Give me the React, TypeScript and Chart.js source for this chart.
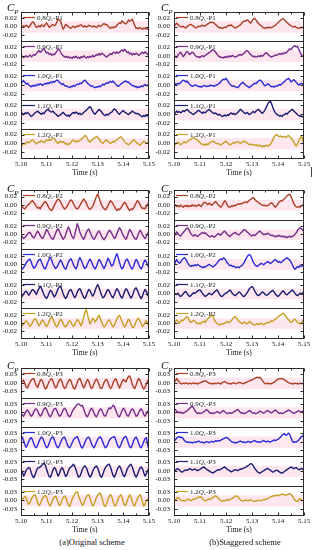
import React, { useEffect, useRef } from 'react';
import { Chart, registerables } from 'chart.js';

Chart.register(...registerables);

const SERIF = '"Liberation Serif", "Times New Roman", serif';

// ---- sampling of every time series: 5.100 s ... 5.150 s, step 0.0005 s ----
const T_START = 5.1;
const T_STEP = 0.0005;
const SAMPLE_COUNT = 101;
const times: number[] = Array.from({ length: SAMPLE_COUNT }, (_, i) => Number((T_START + i * T_STEP).toFixed(4)));

// all Cp values below are stored in units of 1e-3
const CP_UNIT = 0.001;

const flowLabels = ['0.8', '0.9', '1.0', '1.1', '1.2'];
const timeTicks = [5.1, 5.11, 5.12, 5.13, 5.14, 5.15];
const cpTicksP12 = [-0.02, 0, 0.02];
const cpTicksP3 = [-0.03, 0, 0.03];
const seriesColors = ['#ad3f26', '#762c88', '#2a2ad6', '#1b1b72', '#c79e22'];

// ---- (a) Original scheme, P1 ----
const origP1_08 = [1,-1,2,0,3,1,-2,2,6,11, 9,3,-2,0,2,-1,4,2,0,5, 8,4,-2,0,3,5,2,4,10,17, 15,12,2,-6,-1,5,3,0,-2,-4, -1,1,-2,-1,2,0,3,4,1,-1, 2,-1,0,3,1,1,-1,2,0,-2, 1,3,0,2,5,7,4,5,1,-2, -4,-1,-3,0,-1,3,6,9,7,13, 10,8,6,9,15,12,14,17,10,2, -4,-3,-5,-2,-4,-6,-3,-5,-4,-6, -5];
const origP1_09 = [-3,-1,-4,-2,0,-3,-1,2,-2,0, 3,1,5,9,12,8,10,14,16,11, 6,8,3,5,1,4,2,6,10,16, 14,8,3,0,-3,-1,-4,-2,-5,-3, -6,-2,-4,-1,-5,-3,-6,-2,-4,0, -3,-5,-2,-4,-1,-3,1,-2,0,3, 1,5,2,6,4,2,-1,-3,0,2, 5,3,7,8,5,9,6,8,11,13, 10,15,12,7,9,4,6,2,5,3, 6,4,1,3,6,8,5,9,7,3, 2];
const origP1_10 = [4,7,10,6,2,4,0,-2,-4,-1, -3,0,-2,2,0,3,1,-1,2,4, 2,5,3,7,5,8,6,9,11,10, 6,4,1,3,-1,-3,-2,-5,-6,-3, -4,-1,-3,0,2,1,4,3,6,9, 11,8,4,2,-1,-3,-2,-5,-6,-4, -5,-2,-4,-1,2,0,3,5,4,7, 8,6,9,5,2,-1,-3,-1,2,4, 6,8,9,6,7,4,1,-2,-1,-4, -3,-6,-4,-5,-2,-4,-1,1,-2,0, -3];
const origP1_11 = [0,2,-1,3,1,4,2,-2,-5,-3, 0,3,5,7,4,2,0,3,1,6, 9,11,8,6,5,7,3,1,-2,-5, -3,-1,2,4,1,-2,-4,-2,-5,-1, 2,4,2,5,3,0,2,-1,1,4, 6,9,12,15,17,13,7,2,0,4, 7,11,9,5,1,-2,-3,0,-2,1, 3,5,9,12,10,6,2,0,3,6, 8,5,3,1,-1,2,4,7,5,3, 1,2,0,-2,-4,-6,-3,-5,-2,-4, -1];
const origP1_12 = [-7,-3,0,-2,2,4,1,3,6,8, 5,2,-1,1,4,3,6,4,2,5, 8,6,9,7,10,12,11,6,2,0, 3,5,2,4,1,-2,0,-3,-1,2, 6,8,5,3,6,4,7,9,12,14, 18,16,10,5,3,6,9,11,13,16, 14,10,6,2,0,3,6,8,5,2, 0,2,5,3,6,8,11,13,15,12, 8,4,1,-1,-3,-1,2,5,8,6, 3,0,-2,-4,-1,2,5,3,0,2, 1];

// ---- (b) Staggered scheme, P1 ----
const stagP1_08 = [0,4,8,5,2,0,-1,1,-2,-3, 0,2,4,5,3,1,-2,-3,-1,1, 0,2,3,1,2,4,6,8,10,9, 10,7,5,2,-1,-3,-2,-4,-3,-1, -2,1,3,2,4,1,-1,-3,-2,0, 2,4,7,11,13,12,15,14,10,8, 13,17,19,15,11,7,4,2,-1,-3, -4,-2,-3,-1,-3,-2,0,1,3,6, 9,12,14,17,18,15,12,9,6,4, 2,0,-1,1,-2,-3,-4,-2,-3,-1, -2];
const stagP1_09 = [2,-2,-4,1,5,8,4,-2,1,6, 10,7,3,5,8,6,2,-1,-3,-2, -4,-1,0,-2,1,3,5,7,9,12, 14,12,8,4,0,-2,-4,-3,-5,-2, -4,-1,-3,0,-2,1,-1,-3,-2,0, 2,3,1,4,6,9,12,10,6,3, 0,-2,-1,-3,-2,0,-2,1,-1,2, 5,7,4,1,-1,-3,-1,0,2,1, 3,5,3,6,4,7,6,9,12,16, 14,18,21,23,20,22,15,8,2,-1, 0];
const stagP1_10 = [0,3,1,4,2,5,8,11,10,7, 9,5,2,-1,-3,-2,0,-1,-2,-4, -3,-5,-3,-1,-2,-4,-2,-3,0,-2, -1,-3,-1,0,2,4,8,11,13,12, 15,11,6,2,-1,-3,-2,-4,-5,-6, -3,1,4,6,3,0,-2,-4,-6,-3, -1,2,4,3,6,9,11,10,6,1, -2,0,3,1,-2,-4,-3,-5,-2,-3, -1,1,0,3,5,8,11,13,15,12, 7,9,12,10,6,3,0,2,4,1, 3];
const stagP1_11 = [0,3,7,4,6,3,5,8,6,9, 11,8,5,3,1,-1,2,4,7,9, 6,4,2,5,3,6,9,11,8,5, 3,1,3,0,-2,0,-3,-5,-4,-2, -4,-1,-3,1,3,0,2,-1,1,4, 7,11,9,6,3,1,4,2,-1,1, 4,6,3,7,9,11,8,4,2,5, 10,16,22,27,30,24,15,8,3,0, -2,-4,-3,-5,-2,-1,2,0,4,6, 9,11,8,5,2,-1,-3,-5,-4,-6, -4];
const stagP1_12 = [-6,-2,1,3,0,-3,-1,2,4,1, 3,6,8,10,12,13,11,9,8,5, 2,-1,-3,-2,-4,-1,-3,0,2,4, 5,3,1,-1,0,-2,-4,-1,1,3, 5,2,-1,-3,-2,0,2,1,3,4, 2,0,2,4,5,3,1,-1,-3,-2, -2,-4,-3,-5,-3,-6,-4,-6,-8,-5, -7,-4,-6,-4,-3,2,8,14,18,20, 17,15,17,14,16,15,13,16,18,15, 12,9,4,-2,-6,-1,5,12,16,8, -3];

// ---- (a) Original scheme, P2 ----
const origP2_08 = [2,-4,-8,-10,-6,-2,1,4,8,10, 6,1,-4,-8,-6,-10,-4,0,5,8, 4,-2,-8,-12,-14,-8,-2,4,10,14, 12,6,0,-6,-10,-8,-4,2,8,12, 9,3,-3,-8,-10,-7,-2,4,9,14, 11,4,-3,-9,-11,-8,-4,3,12,20, 26,18,8,0,-6,-10,-12,-8,-2,4, 10,7,2,-4,-10,-14,-10,-12,-8,-3, 2,6,3,-4,-10,-14,-10,-12,-8,-2, 4,10,7,1,-5,-9,-8,-10,-4,2, 0];
const origP2_09 = [-2,-6,-10,-8,-4,0,4,5,0,-6, -9,-4,3,8,4,-3,-8,-10,-4,4, 12,8,1,-5,-10,-12,-6,2,10,14, 8,0,-6,-12,-8,0,10,18,12,2, -6,-10,-2,12,26,18,6,-2,-8,-12, -6,4,10,13,6,-2,-8,-12,-8,-1, 5,8,3,-4,-10,-13,-8,-2,5,10, 8,2,-4,-10,-7,2,10,16,12,4, -3,-8,-12,-6,4,12,8,1,-5,-10, -12,-6,2,10,6,-1,-6,-10,-5,2, 6];
const origP2_10 = [-8,-12,-9,-4,2,7,10,12,4,-4, -10,-8,-2,5,10,12,5,-3,-10,-12, -4,4,12,16,9,0,-6,-11,-8,-2, 5,10,4,-4,-10,-13,-5,4,10,13, 7,-2,-8,-12,-4,8,16,10,2,-6, -11,-8,0,7,12,6,-2,-8,-12,-6, 3,11,8,0,-6,-11,-4,5,14,9, 1,-5,-2,8,18,25,16,4,-6,-12, -8,2,9,12,6,-2,-9,-12,-6,4, 11,7,-1,-8,-12,-6,4,10,5,-3, -8];
const origP2_11 = [-10,-6,-1,4,6,2,-4,0,6,10, 8,3,-2,6,12,18,13,5,-3,-9, -12,-6,2,8,5,-2,-8,-4,4,12, 17,18,9,-1,-8,-12,-6,2,8,10, 4,-4,-10,-5,3,10,12,6,-2,-9, -12,-5,4,10,7,0,-6,-2,8,16, 22,15,5,-4,-10,-8,-2,6,10,6, -1,-7,-10,-3,6,12,8,0,-7,-11, -4,5,12,9,2,-5,-11,-6,3,11, 14,8,0,-7,-12,-6,4,10,5,-3, -8];
const origP2_12 = [-9,-6,-2,2,6,3,-3,-8,-4,2, 8,11,7,0,-6,-2,5,8,3,-4, -8,-3,5,12,15,10,2,-5,-9,-4, 4,10,6,-1,-7,-9,-4,2,6,3, -3,-8,-4,3,9,6,-1,-6,2,14, 26,33,22,8,-2,4,12,9,3,8, 15,19,12,3,-4,-9,-6,0,6,8, 3,-4,-9,-5,3,10,16,19,13,4, -4,-9,-5,3,10,6,-2,-9,-11,-5, 4,10,12,6,-2,-8,-5,2,6,1, -6];

// ---- (b) Staggered scheme, P2 ----
const stagP2_08 = [2,-1,-4,-2,-5,-1,-3,-6,-2,-4, -1,-5,-2,-4,0,-3,-1,-4,-2,1, -2,-4,2,5,6,3,0,4,2,-1, 2,5,8,4,0,-3,-6,-2,4,10, 7,-1,-5,-6,-3,-4,-1,-3,0,2, 1,3,2,4,6,7,5,8,11,13, 16,18,14,10,8,5,3,1,-1,-2, -1,-3,-2,0,3,5,2,-3,-6,-2, 3,7,10,9,12,15,18,22,24,26, 20,12,4,-2,-5,-6,-4,-6,-3,-1, 2];
const stagP2_09 = [-4,0,6,3,-2,-4,0,4,8,12, 16,14,8,2,-2,-4,-1,-3,-5,-2, 0,3,5,2,4,1,-2,-4,-6,-3, -5,-7,-4,-1,2,0,-2,3,6,8, 4,0,-3,-5,-2,1,3,5,2,0, -1,2,5,9,12,10,6,4,1,-2, -4,-1,-3,0,3,6,8,5,2,-1, 1,0,3,1,-1,-3,-2,-4,-6,-3, -5,-2,-4,-6,-4,-7,-5,-8,-6,-4, -7,-5,-3,0,4,9,13,16,14,10, 12];
const stagP2_10 = [-4,4,11,6,2,4,9,13,15,12, 6,0,-4,-6,-3,-5,-2,-4,-1,-3, -5,-7,-9,-6,-8,-5,-3,-1,-3,-5, -7,-4,-2,2,6,10,12,11,15,13, 8,3,-1,-4,-3,-6,-5,-8,-9,-7, -9,-6,-4,-1,4,10,16,21,23,20, 12,4,-1,-4,-6,-3,-1,2,0,-2, 1,3,6,4,1,3,6,9,11,8, 4,6,3,5,8,11,13,15,12,9, 5,-2,-8,-13,-10,-6,-8,-4,-6,-3, -5];
const stagP2_11 = [-3,0,-2,1,-4,-7,-5,-1,3,5, 1,-4,-7,-5,-1,2,0,3,6,8, 9,5,0,-4,-7,-5,-2,1,-1,-3, 0,4,7,9,4,-1,-6,-7,-4,-1, 1,3,6,9,5,0,-3,-5,-2,1, 4,2,-2,-6,-7,-3,1,6,12,15, 17,14,7,1,-3,-5,-2,1,4,2, -2,-4,-3,0,3,6,8,4,-1,-5, -7,-4,0,4,7,3,-2,-3,0,3, 6,9,5,1,-3,-5,-2,1,-1,2, 0];
const stagP2_12 = [-4,2,8,4,0,3,8,6,10,13, 16,12,5,2,4,7,5,1,-1,0, -2,1,3,5,2,7,11,14,16,20, 16,8,3,0,-2,-4,-3,-1,-2,0, 2,4,1,3,6,10,14,16,13,8, 4,2,-1,0,3,1,-2,0,4,2, -1,-3,-5,-3,-1,-3,-2,0,-2,-4, -1,0,2,1,3,6,5,8,10,12, 15,18,20,22,24,21,17,13,9,5, 2,4,8,10,6,2,0,-2,1,6, 9];

// ---- (a) Original scheme, P3 ----
const origP3_08 = [8,4,10,-2,-14,-18,-8,2,10,14, 15,2,-10,-16,-4,8,12,4,-10,-22, -18,-6,4,12,15,6,-8,-18,-14,0, 10,14,4,-10,-20,-16,-4,6,12,8, -6,-18,-22,-12,2,12,16,6,-8,-18, -10,4,12,5,-8,-20,-16,-2,8,14, 6,-6,-18,-20,-10,2,10,12,2,-12, -20,-14,0,10,15,6,-8,-18,-8,4, 12,8,4,14,22,25,12,-4,-16,-20, -8,6,16,10,-2,-14,-22,-16,-4,8, 2];
const origP3_09 = [-4,-10,-14,-6,4,8,2,-8,-14,-10, 2,10,12,4,-6,-14,-10,2,12,16, 10,-2,-12,-16,-8,4,12,14,6,-6, -14,-12,-2,8,14,10,-2,-12,-16,-10, 2,10,16,22,28,30,26,22,24,12, -2,-12,-16,-6,6,14,10,-2,-12,-16, -8,4,12,10,-2,-12,-14,-4,8,16, 12,18,25,20,8,-4,-14,-16,-6,6, 14,10,-2,-12,-14,-4,6,12,8,-4, -14,-12,-2,8,12,4,-8,-14,-6,4, 2];
const origP3_10 = [12,16,4,-10,-20,-12,0,10,14,6, -8,-18,-22,-12,0,10,16,12,0,-12, -22,-18,-6,6,14,17,8,-6,-18,-22, -14,-2,8,14,16,6,-8,-18,-22,-14, -4,6,12,15,18,8,-6,-18,-23,-14, -2,8,14,16,8,-6,-16,-22,-14,-2, 8,14,17,10,-2,-14,-22,-18,-8,4, 10,14,16,18,8,-6,-18,-22,-12,0, 10,16,19,8,-6,-18,-22,-12,2,12, 16,8,-6,-18,-22,-12,0,10,14,-10, -30];
const origP3_11 = [6,-4,-18,-10,2,8,12,10,-6,-18, -24,-14,0,10,12,14,18,24,28,20, 6,-8,-20,-22,-10,4,12,8,-6,-18, -10,4,12,6,-8,-20,-14,0,10,14, 18,24,16,4,-10,-22,-20,-8,6,14, 18,12,0,-14,-22,-16,-2,8,14,18, 10,-4,-18,-22,-12,2,12,18,22,24, 14,-2,-16,-22,-12,2,12,18,10,-4, -16,-20,-8,6,14,20,24,14,0,-14, -22,-14,0,10,14,8,-6,-18,-10,2, 8];
const origP3_12 = [-4,2,8,14,10,-6,-14,-8,4,12, 18,20,8,-8,-18,-14,-2,8,14,18, 12,-4,-16,-20,-8,4,12,15,6,-8, -18,-14,0,10,15,10,-4,-16,-22,-10, 4,14,22,28,30,18,4,-8,-18,-12, 2,12,18,20,8,-8,-20,-16,-2,10, 18,24,26,14,-4,-18,-22,-10,4,14, 20,12,-4,-18,-20,-8,6,14,20,10, -6,-18,-16,-2,10,20,12,-4,-18,-20, -6,6,14,20,12,-6,-20,-14,0,4, -2];

// ---- (b) Staggered scheme, P3 ----
const stagP3_08 = [0,6,16,10,2,-2,-4,-1,-3,0, -2,-4,-1,-3,-2,0,-3,-1,-4,-2, 0,2,4,6,8,5,2,-1,-3,-2, -4,-1,-3,-2,0,-2,-4,1,3,5, 2,-1,-3,-2,-4,-1,0,-2,-3,0, 2,1,-1,-3,-2,1,3,5,7,9, 11,13,16,18,20,18,20,15,8,2, -2,-3,-1,-4,-2,-3,0,2,6,10, 13,15,14,16,13,11,8,4,1,-1, -3,-2,-4,-1,-3,-2,-4,-1,-3,-2, 0];
const stagP3_09 = [4,10,4,-2,2,-3,0,-4,-1,2, 5,9,14,18,22,16,6,0,-4,-2, -5,-3,-1,2,5,10,6,0,-4,-2, -5,-3,-1,2,0,-3,-1,3,6,2, -2,-5,-3,-1,-4,-2,1,4,7,10, 5,0,-4,-2,-5,-3,0,3,6,3, -1,-4,-2,-5,-3,0,4,2,-1,-3, 0,4,6,3,0,-2,1,5,8,4, -1,-4,-2,-5,-3,-1,2,5,8,6, 2,-1,-4,-2,0,3,5,2,0,4, 3];
const stagP3_10 = [2,6,12,16,18,14,16,10,4,0, -3,-1,-4,-2,-5,-3,-1,-3,0,2, -1,-3,-2,-5,-3,0,-2,-4,-1,1, -2,0,3,1,4,2,5,8,10,12, 15,13,10,5,1,-2,-4,-3,-5,-2, 0,2,0,-3,-1,-4,-2,1,-1,-3, 0,2,4,1,-2,0,-3,-1,2,4, 1,-1,2,0,-2,1,3,6,3,6, 8,12,16,22,26,28,22,24,30,26, 14,2,-3,0,-2,2,6,12,18,20, 14];
const stagP3_11 = [-2,2,6,8,4,-1,-4,-2,1,4, 2,5,8,6,3,5,7,4,1,3, 6,9,12,14,10,6,3,0,-3,-5, -7,-4,-1,2,5,3,6,9,12,14, 10,6,3,0,-3,-1,2,5,3,1, 4,7,6,9,11,13,16,19,22,26, 24,18,10,4,-2,-6,-8,-5,-2,1, 4,7,9,6,3,-1,-4,-2,1,3, 0,-3,-6,-8,-5,-2,2,5,8,11, 14,12,8,10,12,8,4,6,9,6, 4];
const stagP3_12 = [-2,2,6,10,6,1,-2,0,-3,-1, 2,4,1,-1,2,5,3,6,9,12, 10,12,6,1,-2,0,3,5,3,6, 10,14,16,13,8,2,-1,-3,-1,-2, 0,2,0,3,5,8,11,14,16,13, 8,2,-1,-3,-1,1,0,-2,0,2, -1,-3,-2,-4,-1,1,-2,-1,1,3, 2,4,6,8,11,14,16,15,17,19, 16,18,20,22,21,19,18,20,22,24, 21,16,8,1,-3,-5,2,6,2,-2, 0];

type PanelDef = {
  left: number; top: number; width: number; height: number;
  padTop: number; padRight: number;
  point: string; range: number; ticks: number[]; band: [number, number];
  series: number[][];
};

const panels: PanelDef[] = [
  { left: 0, top: 0, width: 157, height: 180, padTop: 12, padRight: 7, point: 'P1', range: 0.033, ticks: cpTicksP12, band: [-0.014, 0.012],
    series: [origP1_08, origP1_09, origP1_10, origP1_11, origP1_12] },
  { left: 153, top: 0, width: 161, height: 180, padTop: 12, padRight: 10, point: 'P1', range: 0.033, ticks: cpTicksP12, band: [-0.014, 0.012],
    series: [stagP1_08, stagP1_09, stagP1_10, stagP1_11, stagP1_12] },
  { left: 0, top: 180, width: 157, height: 180, padTop: 10, padRight: 7, point: 'P2', range: 0.036, ticks: cpTicksP12, band: [-0.014, 0.012],
    series: [origP2_08, origP2_09, origP2_10, origP2_11, origP2_12] },
  { left: 153, top: 180, width: 161, height: 180, padTop: 10, padRight: 10, point: 'P2', range: 0.036, ticks: cpTicksP12, band: [-0.014, 0.012],
    series: [stagP2_08, stagP2_09, stagP2_10, stagP2_11, stagP2_12] },
  { left: 0, top: 360, width: 157, height: 177, padTop: 8, padRight: 7, point: 'P3', range: 0.052, ticks: cpTicksP3, band: [-0.022, 0.018],
    series: [origP3_08, origP3_09, origP3_10, origP3_11, origP3_12] },
  { left: 153, top: 360, width: 161, height: 177, padTop: 8, padRight: 10, point: 'P3', range: 0.052, ticks: cpTicksP3, band: [-0.022, 0.018],
    series: [stagP3_08, stagP3_09, stagP3_10, stagP3_11, stagP3_12] },
];

function makeDecorPlugin(p: PanelDef) {
  return {
    id: 'decor',
    beforeDatasetsDraw(chart: any) {
      const { ctx, chartArea } = chart;
      ctx.save();
      ctx.fillStyle = 'rgba(250, 196, 214, 0.42)';
      p.series.forEach((_, k) => {
        const s = chart.scales['y' + k];
        const y1 = s.getPixelForValue(p.band[1]);
        const y2 = s.getPixelForValue(p.band[0]);
        ctx.fillRect(chartArea.left, y1, chartArea.right - chartArea.left, y2 - y1);
      });
      ctx.restore();
    },
    afterDatasetsDraw(chart: any) {
      const { ctx, chartArea } = chart;
      const L = Math.round(chartArea.left) + 0.5;
      const R = Math.round(chartArea.right) - 0.5;
      ctx.save();
      ctx.strokeStyle = '#2a2a2a';
      ctx.lineWidth = 1;
      let firstTop = 0;
      let lastBottom = 0;
      p.series.forEach((_, k) => {
        const s = chart.scales['y' + k];
        const T = Math.round(s.top) + 0.5;
        const B = Math.round(s.bottom) + 0.5;
        if (k === 0) firstTop = T;
        lastBottom = B;
        ctx.strokeRect(L, T, R - L, B - T);
        ctx.beginPath();
        p.ticks.forEach((v) => {
          const y = Math.round(s.getPixelForValue(v)) + 0.5;
          ctx.moveTo(L, y); ctx.lineTo(L + 3, y);
          ctx.moveTo(R, y); ctx.lineTo(R - 3, y);
        });
        ctx.stroke();
      });
      const xs = chart.scales.x;
      ctx.beginPath();
      timeTicks.forEach((v, i) => {
        const x = Math.round(xs.getPixelForValue(v)) + 0.5;
        ctx.moveTo(x, lastBottom); ctx.lineTo(x, lastBottom - 3);
        ctx.moveTo(x, firstTop); ctx.lineTo(x, firstTop + 3);
        if (i < timeTicks.length - 1) {
          const xm = Math.round(xs.getPixelForValue(v + 0.005)) + 0.5;
          ctx.moveTo(xm, lastBottom); ctx.lineTo(xm, lastBottom - 2);
          ctx.moveTo(xm, firstTop); ctx.lineTo(xm, firstTop + 2);
        }
      });
      ctx.stroke();

      // legends
      p.series.forEach((_, k) => {
        const s = chart.scales['y' + k];
        const y = Math.round(s.top) + 5;
        const x0 = chartArea.left + 2;
        ctx.strokeStyle = seriesColors[k];
        ctx.lineWidth = 1.2;
        ctx.beginPath();
        ctx.moveTo(x0, y + 0.5); ctx.lineTo(x0 + 12, y + 0.5);
        ctx.stroke();
        let tx = x0 + 14;
        ctx.fillStyle = '#1a1a1a';
        ctx.textBaseline = 'middle';
        ctx.textAlign = 'left';
        ctx.font = `7px ${SERIF}`;
        ctx.fillText(flowLabels[k], tx, y + 1);
        tx += ctx.measureText(flowLabels[k]).width;
        ctx.font = `italic 7px ${SERIF}`;
        ctx.fillText('Q', tx, y + 1);
        tx += ctx.measureText('Q').width;
        ctx.font = `italic 5px ${SERIF}`;
        ctx.fillText('s', tx, y + 3);
        tx += ctx.measureText('s').width + 0.3;
        ctx.font = `7px ${SERIF}`;
        ctx.fillText('-' + p.point, tx, y + 1);
      });
      ctx.restore();
    },
  };
}

function buildConfig(p: PanelDef): any {
  const scales: any = {
    x: {
      type: 'linear',
      position: 'bottom',
      min: timeTicks[0],
      max: timeTicks[timeTicks.length - 1],
      afterBuildTicks: (s: any) => { s.ticks = timeTicks.map((v) => ({ value: v })); },
      afterFit: (s: any) => { s.height = 22; },
      grid: { display: false, drawTicks: false },
      border: { display: false },
      ticks: {
        font: { family: SERIF, size: 7 },
        color: '#111',
        padding: 2,
        autoSkip: false,
        maxRotation: 0,
        callback: (v: any) => Number(v).toFixed(2),
      },
      title: {
        display: true,
        text: 'Time (s)',
        font: { family: SERIF, size: 7.5 },
        color: '#111',
        padding: { top: 0, bottom: 2.5 },
      },
    },
  };
  p.series.forEach((_, k) => {
    scales['y' + k] = {
      type: 'linear',
      position: 'left',
      stack: 'cp',
      stackWeight: 1,
      weight: 10 - k,
      min: -p.range,
      max: p.range,
      afterBuildTicks: (s: any) => { s.ticks = p.ticks.map((v) => ({ value: v })); },
      afterFit: (s: any) => { s.width = 21; },
      grid: { display: false, drawTicks: false },
      border: { display: false },
      ticks: {
        font: { family: SERIF, size: 7 },
        color: '#111',
        padding: 4,
        autoSkip: false,
        callback: (v: any) => Number(v).toFixed(2),
      },
    };
  });

  const datasets = p.series.map((vals, k) => ({
    label: `${flowLabels[k]}Qs-${p.point}`,
    data: vals.map((v, i) => ({ x: times[i], y: v * CP_UNIT })),
    yAxisID: 'y' + k,
    xAxisID: 'x',
    borderColor: seriesColors[k],
    backgroundColor: seriesColors[k],
    borderWidth: 1.4,
    borderJoinStyle: 'round',
    pointRadius: 0,
    tension: 0,
    fill: false,
  }));

  return {
    type: 'line',
    data: { datasets },
    options: {
      responsive: false,
      animation: false,
      events: [],
      layout: { padding: { top: p.padTop, right: p.padRight, left: 0, bottom: 0 } },
      plugins: { legend: { display: false }, tooltip: { enabled: false }, title: { display: false } },
      scales,
    },
    plugins: [makeDecorPlugin(p)],
  };
}

function Panel({ p }: { p: PanelDef }) {
  const ref = useRef<HTMLCanvasElement | null>(null);
  useEffect(() => {
    if (!ref.current) return;
    const chart = new Chart(ref.current, buildConfig(p));
    return () => chart.destroy();
  }, [p]);
  return (
    <canvas
      ref={ref}
      width={p.width}
      height={p.height}
      style={{ position: 'absolute', left: p.left, top: p.top, width: p.width, height: p.height }}
    />
  );
}

function CpLabel({ left, top }: { left: number; top: number }) {
  return (
    <div style={{ position: 'absolute', left, top, fontFamily: SERIF, lineHeight: '11px', color: '#111', whiteSpace: 'nowrap' }}>
      <span style={{ fontStyle: 'italic', fontSize: 11 }}>C</span>
      <span style={{ fontStyle: 'italic', fontSize: 7, position: 'relative', top: 3 }}>P</span>
    </div>
  );
}

export default function App() {
  return (
    <div style={{ position: 'absolute', left: 0, top: 0, width: 314, height: 550, background: '#fff', overflow: 'hidden' }}>
      {panels.map((p, i) => <Panel key={i} p={p} />)}
      <CpLabel left={7} top={0} />
      <CpLabel left={161} top={0} />
      <CpLabel left={7} top={181} />
      <CpLabel left={161} top={181} />
      <CpLabel left={7} top={358} />
      <CpLabel left={161} top={358} />
      <div style={{ position: 'absolute', left: 311, top: 167, width: 1, height: 10, background: '#444' }} />
      <div style={{ position: 'absolute', left: 0, top: 537, width: 184, textAlign: 'center', fontFamily: SERIF, fontSize: 8.5, lineHeight: '10px', color: '#111' }}>
        (a)Original scheme
      </div>
      <div style={{ position: 'absolute', left: 160, top: 537, width: 170, textAlign: 'center', fontFamily: SERIF, fontSize: 8.5, lineHeight: '10px', color: '#111' }}>
        (b)Staggered scheme
      </div>
    </div>
  );
}
